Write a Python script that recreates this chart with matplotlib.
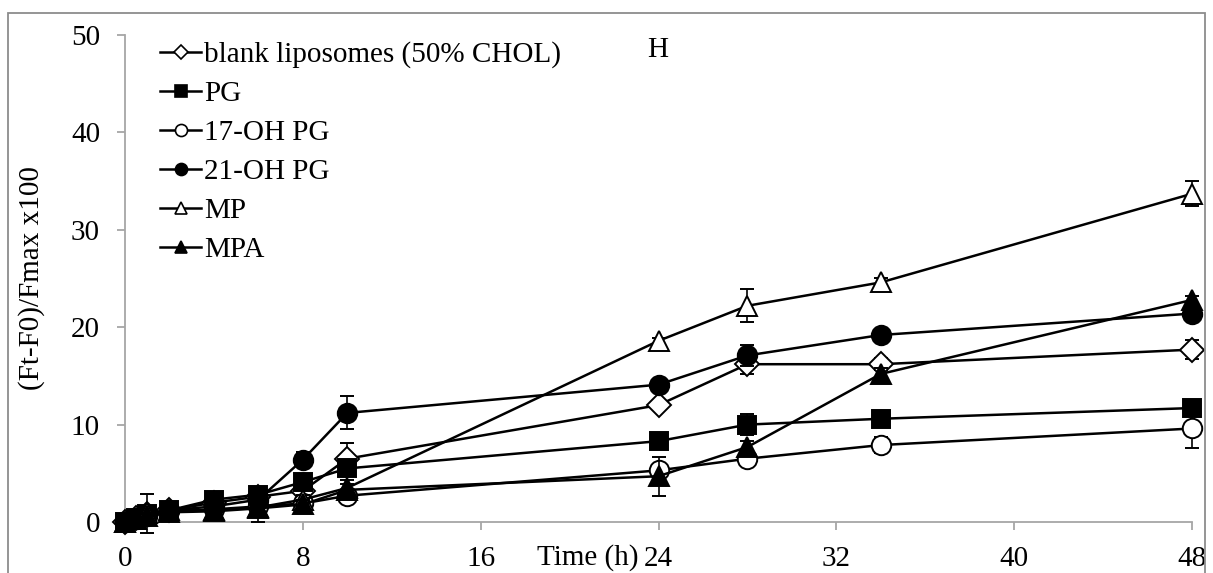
import matplotlib.pyplot as plt
from matplotlib.lines import Line2D
from matplotlib.patches import Rectangle

plt.rcParams['font.family'] = ['Liberation Serif', 'DejaVu Serif']

# sampling times (h)
hours = [0, 0.5, 1, 2, 4, 6, 8, 10, 24, 28, 34, 48]

names = ['blank liposomes (50% CHOL)', 'PG', '17-OH PG', '21-OH PG', 'MP', 'MPA']

blank = [0, 0.4, 0.8, 1.2, 2.0, 2.6, 3.2, 6.5, 12.0, 16.2, 16.2, 17.7]
blank_err = [0.1, 0.2, 0.3, 0.3, 0.5, 0.6, 0.5, 1.6, 0.4, 1.0, 0.6, 1.0]
pg = [0, 0.4, 0.8, 1.2, 2.3, 2.8, 4.1, 5.5, 8.3, 10.0, 10.6, 11.7]
pg_err = [0.1, 0.2, 0.3, 0.3, 0.6, 0.8, 0.5, 0.6, 0.3, 1.1, 0.3, 0.4]
oh17 = [0, 0.3, 0.6, 1.1, 1.3, 1.6, 1.9, 2.7, 5.3, 6.5, 7.9, 9.6]
oh17_err = [0.1, 0.2, 0.3, 0.3, 0.4, 0.5, 0.5, 0.4, 0.5, 0.4, 0.8, 2.0]
oh21 = [0, 0.4, 0.7, 1.2, 1.6, 2.3, 6.4, 11.2, 14.1, 17.1, 19.2, 21.4]
oh21_err = [0.1, 0.2, 0.3, 0.2, 0.5, 0.6, 0.8, 1.7, 0.3, 1.1, 0.3, 0.8]
mp = [0, 0.3, 0.9, 1.2, 1.2, 1.5, 2.3, 3.5, 18.6, 22.2, 24.6, 33.7]
mp_err = [0.1, 0.2, 2.0, 0.3, 0.5, 0.6, 0.5, 0.8, 0.3, 1.7, 0.5, 1.3]
mpa = [0, 0.3, 0.6, 1.0, 1.1, 1.4, 1.8, 3.3, 4.7, 7.7, 15.2, 22.8]
mpa_err = [0.1, 0.2, 0.3, 0.3, 0.8, 1.4, 0.5, 0.6, 2.0, 0.6, 0.6, 0.4]

series = [blank, pg, oh17, oh21, mp, mpa]
errors = [blank_err, pg_err, oh17_err, oh21_err, mp_err, mpa_err]
markers = ['D', 's', 'o', 'o', '^', '^']
faces = ['white', 'black', 'white', 'black', 'white', 'black']
sizes = [12, 13, 14, 14, 14, 14]

fig = plt.figure(figsize=(12.13, 5.73), dpi=100)
ax = fig.add_axes([125 / 1213, 1 - 522 / 573, (1192 - 125) / 1213, (522 - 35) / 573])

handles = []
for i in range(len(series)):
    ax.errorbar(hours, series[i], yerr=errors[i], color='black', lw=1.8,
                marker=markers[i], ms=sizes[i], mfc=faces[i], mec='black', mew=1.4,
                ecolor='black', elinewidth=1.2, capsize=5, capthick=1.2,
                clip_on=False, zorder=3 + i)
    handles.append(Line2D([], [], color='black', lw=1.8, marker=markers[i],
                          ms=sizes[i] * 0.62, mfc=faces[i], mec='black', mew=1.2,
                          label=names[i]))

ax.set_xlim(0, 48)
ax.set_ylim(0, 50)
ax.set_xticks([0, 8, 16, 24, 32, 40, 48])
ax.set_yticks([0, 10, 20, 30, 40, 50])
for s in ['top', 'right']:
    ax.spines[s].set_visible(False)
for s in ['left', 'bottom']:
    ax.spines[s].set_color('#a6a6a6')
    ax.spines[s].set_linewidth(1.3)
ax.tick_params(axis='both', colors='#a6a6a6', labelcolor='black', labelsize=21,
               length=6, width=1.3, direction='out')
ax.tick_params(axis='x', pad=11)
ax.tick_params(axis='y', pad=12)

ax.set_ylabel('(Ft-F0)/Fmax x100', fontsize=21)
ax.yaxis.set_label_coords(-0.075, 0.5)
fig.text(588 / 1213, 1 - 558 / 573, 'Time (h)', fontsize=21, ha='center', va='center')
fig.text(658 / 1213, 1 - 50 / 573, 'H', fontsize=21, ha='center', va='center')

ax.legend(handles=handles, loc='upper left', bbox_to_anchor=(0.033, 0.987), frameon=False,
          fontsize=21, handlelength=1.4, handletextpad=0.1, labelspacing=0.43,
          borderaxespad=0, borderpad=0)

fig.patches.append(Rectangle((8 / 1213, -0.1), (1205 - 8) / 1213, 1.1 - 13 / 573,
                             transform=fig.transFigure, fill=False,
                             edgecolor='#8c8c8c', lw=1.3))

fig.savefig('out.png', dpi=100)
